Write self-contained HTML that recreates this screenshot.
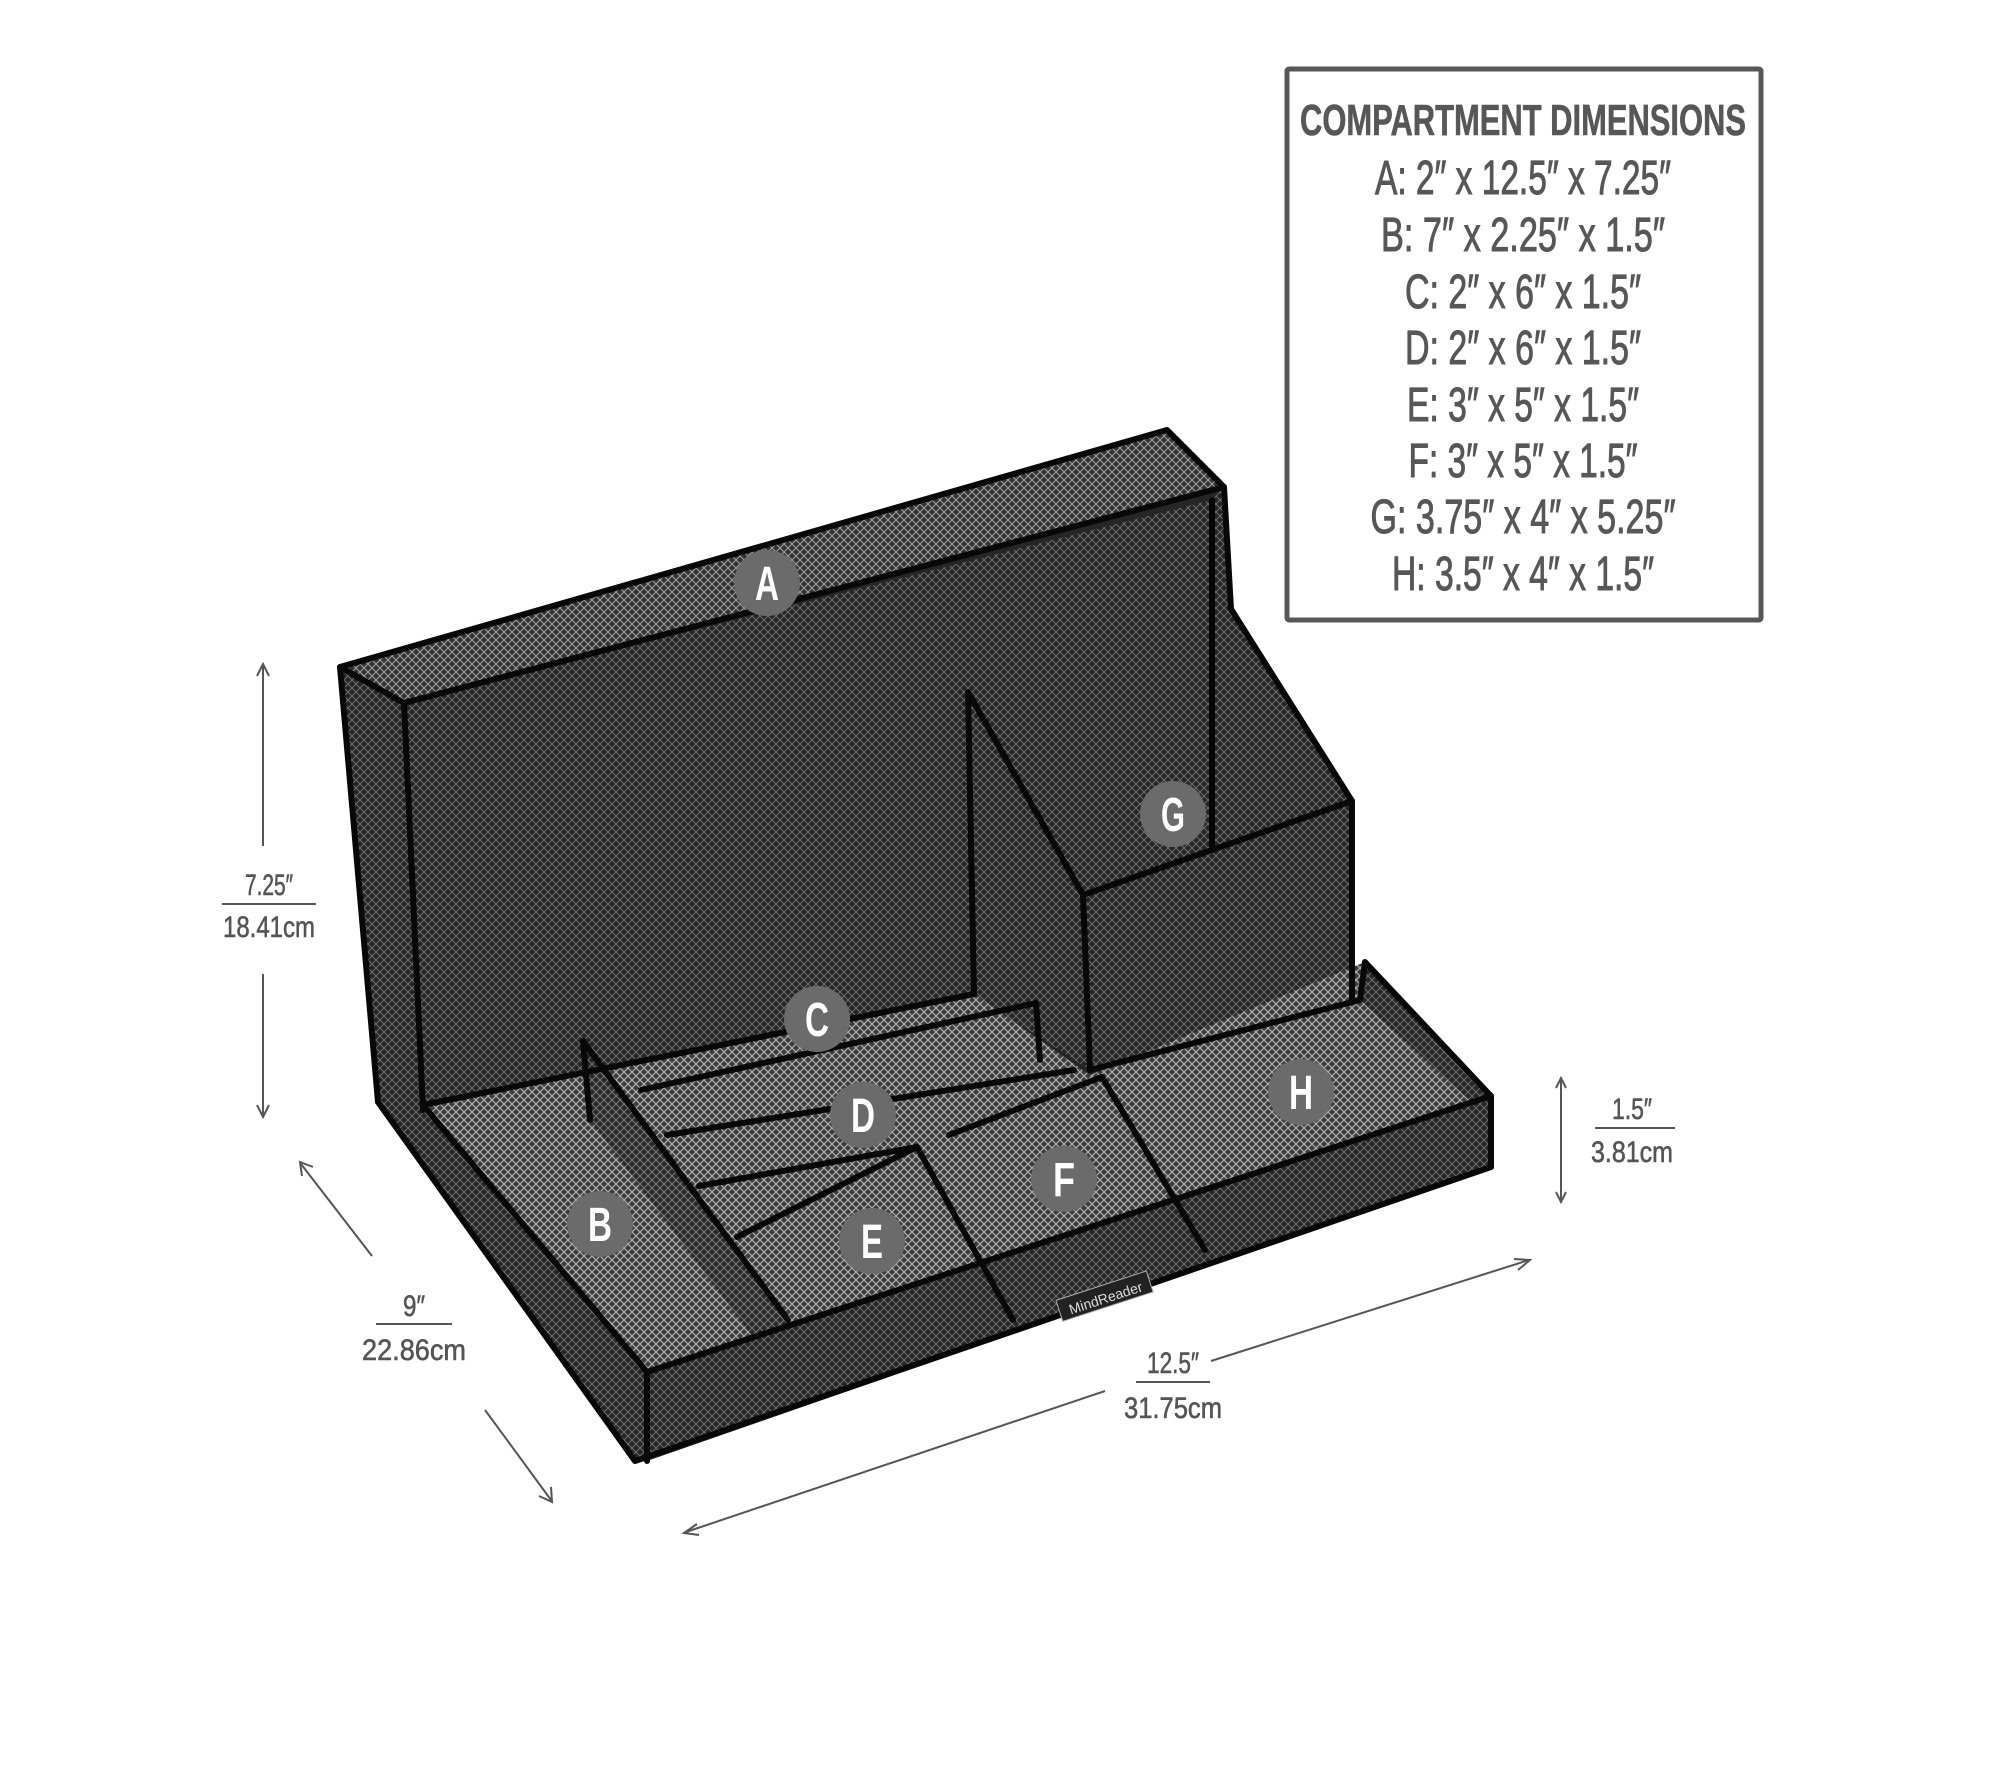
<!DOCTYPE html>
<html><head><meta charset="utf-8"><style>
html,body{margin:0;padding:0;background:#fff}
svg{display:block}
text{font-family:"Liberation Sans",sans-serif}
</style></head><body>
<svg width="2000" height="1778" viewBox="0 0 2000 1778" xmlns="http://www.w3.org/2000/svg">
<defs>
<pattern id="dark" width="8" height="8" patternUnits="userSpaceOnUse">
<rect width="8" height="8" fill="#262626"/>
<path d="M0 0L8 8M8 0L0 8" stroke="#777" stroke-width="0.9"/>
</pattern>
<pattern id="mid" width="8" height="8" patternUnits="userSpaceOnUse">
<rect width="8" height="8" fill="#333"/>
<path d="M0 0L8 8M8 0L0 8" stroke="#a0a0a0" stroke-width="1.1"/>
</pattern>
<pattern id="light" width="8" height="8" patternUnits="userSpaceOnUse">
<rect width="8" height="8" fill="#3c3c3c"/>
<path d="M0 0L8 8M8 0L0 8" stroke="#b0b0b0" stroke-width="1.2"/>
</pattern>
</defs>

<!-- dimension box -->
<rect x="1287" y="69" width="474" height="551" fill="#fff" stroke="#575757" stroke-width="5" rx="2"/>
<g fill="#575757" stroke="#575757" text-anchor="middle">
<text x="1523" y="135" font-size="44" font-weight="bold" stroke-width="0.6" textLength="446" lengthAdjust="spacingAndGlyphs">COMPARTMENT DIMENSIONS</text>
<g stroke-width="1">
<text x="1523" y="194" font-size="48" textLength="296" lengthAdjust="spacingAndGlyphs">A: 2″ x 12.5″ x 7.25″</text>
<text x="1523" y="251" font-size="48" textLength="284" lengthAdjust="spacingAndGlyphs">B: 7″ x 2.25″ x 1.5″</text>
<text x="1523" y="308" font-size="48" textLength="236" lengthAdjust="spacingAndGlyphs">C: 2″ x 6″ x 1.5″</text>
<text x="1523" y="364" font-size="48" textLength="236" lengthAdjust="spacingAndGlyphs">D: 2″ x 6″ x 1.5″</text>
<text x="1523" y="421" font-size="48" textLength="232" lengthAdjust="spacingAndGlyphs">E: 3″ x 5″ x 1.5″</text>
<text x="1523" y="477" font-size="48" textLength="229" lengthAdjust="spacingAndGlyphs">F: 3″ x 5″ x 1.5″</text>
<text x="1523" y="533" font-size="48" textLength="305" lengthAdjust="spacingAndGlyphs">G: 3.75″ x 4″ x 5.25″</text>
<text x="1523" y="590" font-size="48" textLength="262" lengthAdjust="spacingAndGlyphs">H: 3.5″ x 4″ x 1.5″</text>
</g>
</g>

<!-- organizer -->
<!-- base silhouette to avoid seams -->
<polygon points="340,667 1167,430 1224,487 1231,609 1352,801 1352,1000 1365,962 1491,1096 1491,1167 647,1461 635,1461 378,1102" fill="#262626"/>
<polygon points="340,667 1167,430 1224,487 404,703" fill="url(#mid)"/>
<polygon points="404,703 1212,500 1224,487 1231,609 1231,1000 423,1110" fill="url(#dark)"/>
<polygon points="340,667 404,703 423,1110 378,1102" fill="url(#dark)"/>
<polygon points="1231,609 1352,801 1352,1000 1090,1070 1083,895" fill="url(#dark)"/>
<polygon points="968,692 1083,895 1090,1070 974,994" fill="url(#dark)"/>
<!-- tray floor -->
<polygon points="423,1105 974,994 1090,1075 1365,962 1491,1096 647,1372" fill="url(#light)"/>
<polygon points="378,1102 423,1105 650,1372 650,1461 635,1461" fill="url(#dark)"/>
<polygon points="645,1372 1491,1096 1491,1167 645,1461" fill="url(#dark)"/>
<polygon points="1365,962 1491,1096 1491,1120 1360,1000" fill="url(#dark)"/>
<polygon points="583,1041 788,1320 800,1400 590,1120" fill="url(#dark)" opacity="0.85"/>

<g stroke="#080808" stroke-width="6" fill="none" stroke-linecap="round" stroke-linejoin="round">
<polyline points="340,667 1167,430 1224,487 404,703 340,667"/>
<line x1="340" y1="667" x2="378" y2="1102"/>
<line x1="404" y1="703" x2="423" y2="1110"/>
<line x1="1212" y1="500" x2="1212" y2="846"/>
<line x1="1224" y1="487" x2="1231" y2="609"/>
<polyline points="1231,609 1352,801 1083,895 1090,1070"/>
<line x1="1352" y1="801" x2="1352" y2="1000"/>
<polyline points="968,692 1083,895"/>
<line x1="968" y1="692" x2="974" y2="994"/>
<polyline points="423,1105 647,1372 1491,1096 1365,962 1360,1000"/>
<polyline points="378,1102 635,1461 1491,1167 1491,1096"/>
<line x1="647" y1="1372" x2="647" y2="1461"/>
<line x1="423" y1="1105" x2="974" y2="994"/>
<line x1="583" y1="1041" x2="788" y2="1320"/>
<line x1="583" y1="1041" x2="590" y2="1120"/>
<line x1="641" y1="1090" x2="1036" y2="1003"/>
<line x1="1036" y1="1003" x2="1040" y2="1060"/>
<line x1="667" y1="1135" x2="1074" y2="1070"/>
<line x1="699" y1="1186" x2="917" y2="1147"/>
<line x1="737" y1="1237" x2="917" y2="1147"/>
<line x1="917" y1="1147" x2="1013" y2="1320"/>
<line x1="949" y1="1135" x2="1102" y2="1077"/>
<line x1="1102" y1="1077" x2="1205" y2="1250"/>
<line x1="1090" y1="1070" x2="1360" y2="1000"/>
</g>
<rect x="1057" y="1285" width="95" height="22" fill="#222" stroke="#aaa" stroke-width="1" transform="rotate(-18 1105 1296)"/>
<text x="1105" y="1303" font-size="14" fill="#ddd" text-anchor="middle" transform="rotate(-18 1105 1296)">MindReader</text>

<g fill="#6b6b6b">
<circle cx="767" cy="583" r="33"/><circle cx="1173" cy="814" r="33"/>
<circle cx="817" cy="1019" r="33"/><circle cx="863" cy="1115" r="33"/>
<circle cx="1301" cy="1092" r="33"/><circle cx="1064" cy="1179" r="33"/>
<circle cx="600" cy="1224" r="33"/><circle cx="872" cy="1241" r="33"/>
</g>
<g fill="#fff" font-size="48" font-weight="bold" text-anchor="middle">
<text x="767" y="600" textLength="24" lengthAdjust="spacingAndGlyphs">A</text>
<text x="1173" y="831" textLength="24" lengthAdjust="spacingAndGlyphs">G</text>
<text x="817" y="1036" textLength="24" lengthAdjust="spacingAndGlyphs">C</text>
<text x="863" y="1132" textLength="24" lengthAdjust="spacingAndGlyphs">D</text>
<text x="1301" y="1109" textLength="24" lengthAdjust="spacingAndGlyphs">H</text>
<text x="1064" y="1196" textLength="22" lengthAdjust="spacingAndGlyphs">F</text>
<text x="600" y="1241" textLength="24" lengthAdjust="spacingAndGlyphs">B</text>
<text x="872" y="1258" textLength="22" lengthAdjust="spacingAndGlyphs">E</text>
</g>

<g stroke="#555" stroke-width="2" fill="none">
<line x1="263" y1="666" x2="263" y2="846"/><polyline points="257,676 263,664 269,676"/>
<line x1="263" y1="974" x2="263" y2="1115"/><polyline points="257,1105 263,1117 269,1105"/>
<line x1="222" y1="904" x2="316" y2="904"/>
<line x1="301" y1="1164" x2="372" y2="1256"/><polyline points="302,1176 300,1162 313,1167"/>
<line x1="485" y1="1410" x2="551" y2="1500"/><polyline points="551,1487 552,1502 539,1496"/>
<line x1="376" y1="1324" x2="452" y2="1324"/>
<line x1="686" y1="1532" x2="1105" y2="1391"/><polyline points="697,1524 684,1533 699,1535"/>
<line x1="1211" y1="1361" x2="1529" y2="1260"/><polyline points="1514,1259 1530,1260 1518,1270"/>
<line x1="1136" y1="1382" x2="1210" y2="1382"/>
<line x1="1561" y1="1079" x2="1561" y2="1201"/><polyline points="1556,1088 1561,1078 1566,1088"/><polyline points="1556,1192 1561,1202 1566,1192"/>
<line x1="1595" y1="1128" x2="1675" y2="1128"/>
</g>
<g fill="#555" stroke="#555" stroke-width="0.6" font-size="30" text-anchor="middle">
<text x="269" y="895" textLength="48" lengthAdjust="spacingAndGlyphs">7.25″</text>
<text x="269" y="937" textLength="92" lengthAdjust="spacingAndGlyphs">18.41cm</text>
<text x="414" y="1316" textLength="22" lengthAdjust="spacingAndGlyphs">9″</text>
<text x="414" y="1360" textLength="104" lengthAdjust="spacingAndGlyphs">22.86cm</text>
<text x="1173" y="1373" textLength="52" lengthAdjust="spacingAndGlyphs">12.5″</text>
<text x="1173" y="1418" textLength="98" lengthAdjust="spacingAndGlyphs">31.75cm</text>
<text x="1632" y="1119" textLength="40" lengthAdjust="spacingAndGlyphs">1.5″</text>
<text x="1632" y="1162" textLength="82" lengthAdjust="spacingAndGlyphs">3.81cm</text>
</g>
</svg>
</body></html>
